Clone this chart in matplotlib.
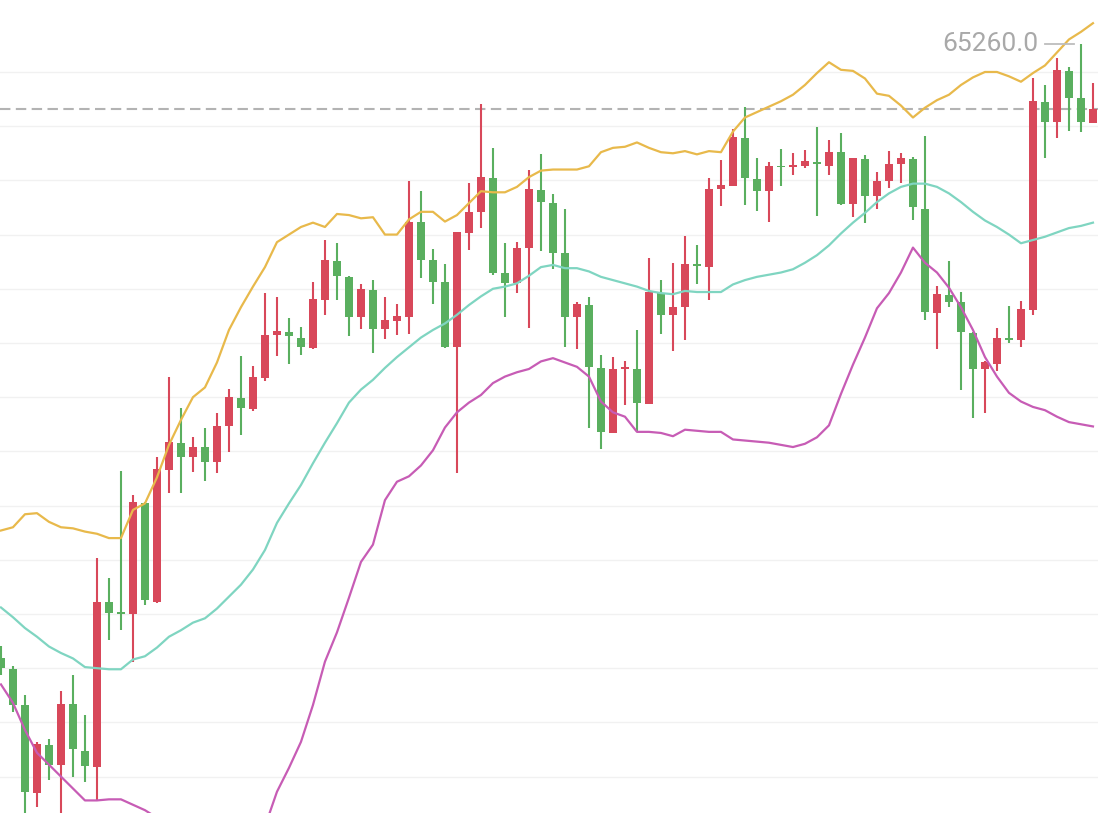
import matplotlib
matplotlib.use('Agg')
import matplotlib.pyplot as plt
import numpy as np

# candle prices, oldest first
opens = [59590, 59490, 59160, 58350, 58790, 58610, 59170, 58740, 58590, 60110,
         60010, 60000, 61020, 60110, 61330, 61580, 61450, 61540, 61400, 61730,
         61990, 61890, 62180, 62570, 62600, 62550, 62450, 62900, 63260, 63110,
         62740, 62990, 62630, 62700, 62740, 63620, 63270, 63060, 62460, 63510,
         63710, 64020, 63150, 63050, 63380, 63910, 63790, 63330, 62740, 62850,
         62270, 61670, 62260, 62260, 61940, 62960, 62760, 62830, 63220, 63200,
         63920, 63950, 64390, 64010, 63900, 64130, 64120, 64130, 64170, 64130,
         64260, 63780, 64200, 63860, 63990, 64150, 64200, 63740, 62780, 62940,
         62880, 62590, 62260, 62310, 62540, 62530, 62800, 64720, 64540, 65010,
         64760, 64530]
highs = [59700, 59520, 59250, 58820, 58850, 59290, 59440, 59070, 60520, 60330,
         61320, 61100, 61030, 61450, 62190, 61900, 61630, 61720, 61850, 62080,
         62380, 62290, 62960, 62920, 62730, 62650, 63060, 63450, 63420, 63115,
         63040, 63080, 62920, 62860, 63990, 63900, 63370, 63230, 63520, 63980,
         64700, 64300, 63420, 63430, 64100, 64240, 63870, 63740, 62880, 62920,
         62390, 62370, 62330, 62620, 63280, 63080, 63240, 63490, 63400, 64020,
         64190, 64470, 64680, 64210, 64170, 64290, 64250, 64280, 64490, 64370,
         64440, 64210, 64230, 64080, 64270, 64250, 64220, 64410, 63030, 63260,
         62970, 62600, 62330, 62640, 62840, 62890, 64940, 64880, 65130, 65050,
         65260, 64900]
lows = [59440, 59100, 58100, 58220, 58470, 58100, 58500, 58450, 58280, 59760,
        59850, 59560, 60080, 60100, 61120, 61120, 61310, 61230, 61300, 61490,
        61650, 61870, 62150, 62380, 62310, 62390, 62440, 62760, 62900, 62560,
        62630, 62410, 62540, 62570, 62580, 63100, 62860, 62455, 61300, 63360,
        63560, 63130, 62740, 62960, 62640, 63350, 63180, 62460, 62440, 61720,
        61520, 61665, 61930, 61680, 61935, 62580, 62430, 62530, 63040, 62900,
        63760, 63945, 63770, 63720, 63620, 63950, 64050, 64110, 63670, 64050,
        63775, 63660, 63610, 63740, 63930, 63980, 63630, 62710, 62440, 62830,
        62070, 61810, 61850, 62240, 62500, 62460, 62760, 64210, 64390, 64460,
        64450, 64525]
closes = [59500, 59160, 58360, 58800, 58610, 59170, 58750, 58600, 60110, 60010,
          60000, 61030, 60130, 61340, 61590, 61450, 61540, 61400, 61730, 62000,
          61900, 62190, 62570, 62610, 62560, 62460, 62910, 63270, 63120, 62740,
          63000, 62630, 62710, 62750, 63620, 63270, 63060, 62460, 63520, 63710,
          64030, 63150, 63050, 63380, 63920, 63800, 63330, 62740, 62860, 62280,
          61680, 62260, 62280, 61950, 62970, 62760, 62830, 63230, 63210, 63920,
          63960, 64400, 64020, 63900, 64130, 64120, 64140, 64180, 64150, 64260,
          63780, 64210, 63860, 63990, 64150, 64210, 63750, 62790, 62950, 62880,
          62600, 62260, 62320, 62550, 62530, 62810, 64730, 64540, 65020, 64760,
          64540, 64660]

# bollinger bands
boll_upper = [60770, 60800, 60920, 60930, 60850, 60800, 60790, 60760, 60740, 60700,
              60700, 60960, 61020, 61260, 61560, 61790, 62000, 62090, 62320, 62620,
              62830, 63020, 63200, 63430, 63500, 63570, 63610, 63570, 63690, 63680,
              63650, 63660, 63500, 63500, 63640, 63710, 63710, 63620, 63680, 63790,
              63900, 63890, 63890, 63940, 64030, 64090, 64100, 64100, 64100, 64130,
              64260, 64300, 64310, 64350, 64300, 64260, 64250, 64270, 64240, 64270,
              64260, 64450, 64580, 64630, 64680, 64730, 64790, 64880, 64990, 65090,
              65020, 65010, 64940, 64800, 64780, 64690, 64580, 64670, 64740, 64790,
              64880, 64950, 65000, 65000, 64960, 64910, 64990, 65060, 65180, 65300,
              65370, 65450]
boll_mid = [60060, 59970, 59870, 59790, 59700, 59640, 59590, 59510, 59500, 59490,
            59490, 59580, 59610, 59690, 59790, 59850, 59920, 59960, 60050, 60160,
            60270, 60410, 60590, 60840, 61020, 61190, 61390, 61580, 61760, 61950,
            62070, 62160, 62270, 62370, 62460, 62550, 62620, 62680, 62760, 62850,
            62930, 63000, 63020, 63050, 63120, 63200, 63220, 63190, 63190, 63160,
            63110, 63080, 63050, 63020, 62980, 62960, 62950, 62980, 62970, 62970,
            62970, 63040, 63080, 63110, 63130, 63150, 63180, 63240, 63310, 63400,
            63510, 63610, 63700, 63800, 63880, 63940, 63970, 63970, 63940, 63880,
            63800, 63710, 63630, 63570, 63500, 63420, 63450, 63480, 63520, 63560,
            63580, 63610]
boll_lower = [59350, 59180, 58930, 58720, 58610, 58500, 58390, 58280, 58280, 58290,
              58290, 58240, 58190, 58120, 58030, 57930, 57840, 57820, 57780, 57710,
              57710, 57800, 58040, 58360, 58580, 58820, 59160, 59560, 59830, 60150,
              60480, 60640, 61050, 61220, 61270, 61370, 61510, 61720, 61860, 61950,
              62020, 62130, 62190, 62230, 62260, 62330, 62360, 62320, 62280, 62190,
              61960, 61860, 61820, 61680, 61680, 61670, 61640, 61700, 61690, 61680,
              61680, 61610, 61600, 61590, 61580, 61560, 61540, 61570, 61630, 61740,
              62030, 62300, 62550, 62820, 62960, 63150, 63380, 63240, 63150, 63010,
              62830, 62620, 62370, 62190, 62040, 61960, 61910, 61880, 61820, 61770,
              61750, 61730]

UP = '#d8485a'
DOWN = '#5aaf5f'

fig = plt.figure(figsize=(10.98, 8.13), dpi=100)
ax = fig.add_axes([0, 0, 1, 1])

x = np.arange(len(opens))
o = np.array(opens)
c = np.array(closes)
colors = [UP if cc >= oo else DOWN for oo, cc in zip(o, c)]

for level in range(58500, 65001, 500):
    ax.axhline(level, color='#f1f1f1', lw=1.0, zorder=0)

ax.vlines(x, lows, highs, colors=colors, lw=1.5, zorder=2)
body = np.maximum(np.abs(c - o), 16)
ax.bar(x, body, bottom=np.minimum(o, c), width=0.64, color=colors, zorder=2)

ax.plot(x, boll_upper, color='#e8b94b', lw=1.6, zorder=3)
ax.plot(x, boll_mid, color='#7fd5c1', lw=1.6, zorder=3)
ax.plot(x, boll_lower, color='#c75cb5', lw=1.6, zorder=3)

# last price
ax.axhline(closes[-1], color='#b3b3b3', lw=1.5, ls=(0, (5, 2.6)), zorder=1)

# highest high marker
imax = int(np.argmax(highs))
hmax = highs[imax]
ax.plot([imax - 3.0, imax - 0.6], [hmax, hmax], color='#bdbdbd', lw=1.3, zorder=4)
ax.text(imax - 3.55, hmax, f'{hmax:.1f}', ha='right', va='center',
        fontsize=19, color='#a9a9a9', family=['Roboto', 'DejaVu Sans'], zorder=4)

ax.set_xlim(-0.08, 91.42)
ax.set_ylim(58164, 65664)
ax.axis('off')

fig.savefig('out.png', dpi=100, facecolor='white')
